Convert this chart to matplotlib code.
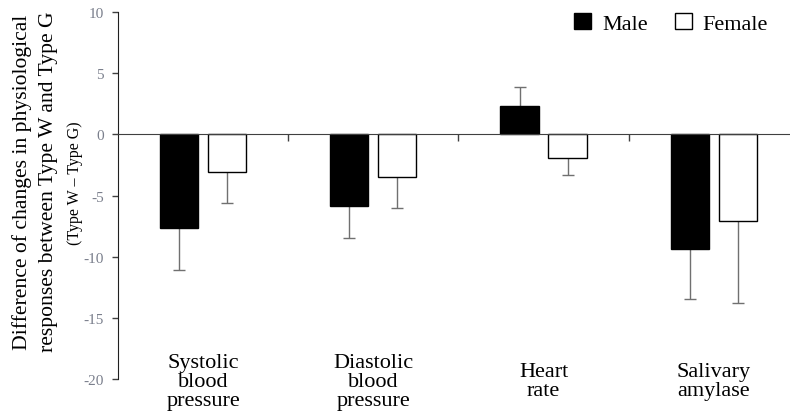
import numpy as np
from matplotlib import pyplot as plt

categories = ["Systolic\nblood\npressure", "Diastolic\nblood\npressure", "Heart\nrate", "Salivary\namylase"]
male = [-7.65, -5.85, 2.35, -9.4]
male_err = [3.4, 2.6, 1.5, 4.1]
female = [-3.1, -3.45, -1.9, -7.05]
female_err = [2.5, 2.6, 1.4, 6.7]
yticks = [10, 5, 0, -5, -10, -15, -20]

plt.rcParams['font.family'] = ['Liberation Serif', 'DejaVu Serif']

fig = plt.figure(figsize=(7.9, 4.14), dpi=100)
ax = fig.add_axes([0.1494, 0.0821, 0.8618, 0.8865])

x = np.arange(len(categories))
off = 0.141
w = 0.224

def err_bars(xs, vals, errs):
    # only the side away from zero gets a bar, like the original
    ends = [v - e if v < 0 else v + e for v, e in zip(vals, errs)]
    ax.vlines(xs, vals, ends, color='#707070', lw=1, zorder=1)
    ax.plot(xs, ends, ls='none', marker='_', ms=8, mew=1, color='#707070', zorder=1)

ax.bar(x - off, male, w, color='black', edgecolor='black', linewidth=1, label='Male', zorder=2)
ax.bar(x + off, female, w, color='white', edgecolor='black', linewidth=1, label='Female', zorder=2)
err_bars(x - off, male, male_err)
err_bars(x + off, female, female_err)

ax.set_xlim(-0.5, 3.5)
ax.set_ylim(-20, 10)
ax.set_yticks(yticks)
ax.set_yticklabels([str(t) for t in yticks], color='#7a7f8c', fontsize=11)
ax.tick_params(axis='y', direction='out', length=4, width=1, color='#404040', pad=6)

ax.spines['top'].set_visible(False)
ax.spines['right'].set_visible(False)
ax.spines['bottom'].set_position(('data', 0))
ax.spines['bottom'].set_color('#404040')
ax.spines['left'].set_color('#202020')
ax.spines['bottom'].set_zorder(3)
ax.set_xticks([0.5, 1.5, 2.5])
ax.set_xticklabels([])
ax.tick_params(axis='x', direction='out', length=5, width=1, color='#404040')

for i, c in enumerate(categories):
    ax.text(i, -20.2, c, ha='center', va='center', fontsize=16, linespacing=1.0)

fig.text(0.028, 0.560, "Difference of changes in physiological", rotation=90,
         ha='center', va='center', fontsize=15.6)
fig.text(0.062, 0.560, "responses between Type W and Type G", rotation=90,
         ha='center', va='center', fontsize=15.6)
fig.text(0.095, 0.558, "(Type W \u2013 Type G)", rotation=90,
         ha='center', va='center', fontsize=11.5)

ax.legend(loc='upper right', bbox_to_anchor=(0.968, 1.022), ncol=2, frameon=False,
          fontsize=16, handlelength=0.77, handleheight=0.77, columnspacing=1.2,
          handletextpad=0.5, borderaxespad=0)

fig.savefig('out.png', dpi=100)
